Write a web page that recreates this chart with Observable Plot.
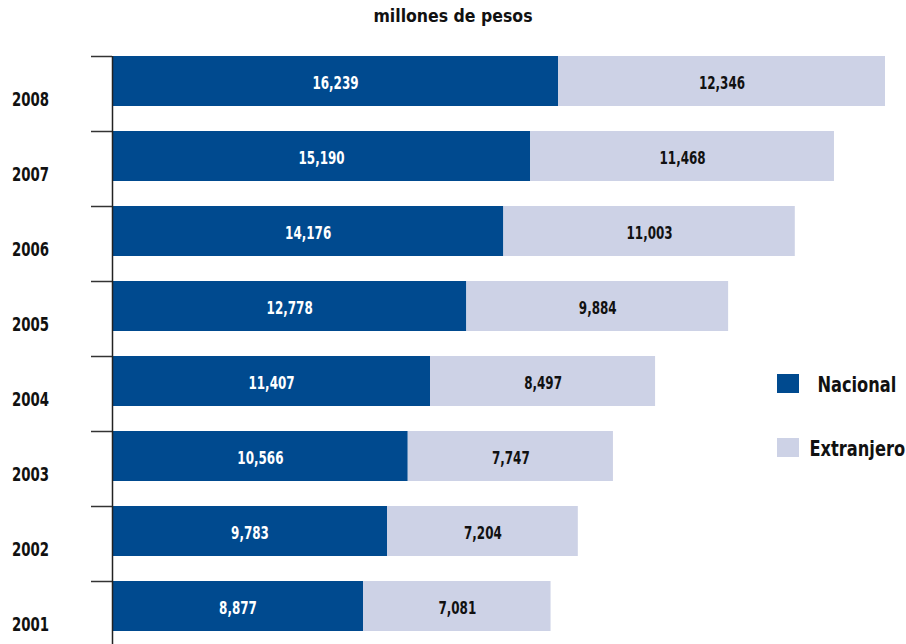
<!DOCTYPE html>
<html>
<head>
<meta charset="utf-8">
<script src="https://cdn.jsdelivr.net/npm/d3@7"></script>
<script src="https://cdn.jsdelivr.net/npm/@observablehq/plot@0.6"></script>
<style>
  html, body { margin: 0; padding: 0; background: #fff; }
  #wrap { position: relative; width: 906px; height: 644px; overflow: hidden;
    font-family: "DejaVu Sans Condensed", "Liberation Sans Narrow", sans-serif; font-weight: bold; font-stretch: condensed; }
  #chart { position: absolute; left: 0; top: 0; }
  .title { position: absolute; left: 0; width: 906px; top: 6px; text-align: center; font-size: 17.5px; color: #111; }
  .sw { position: absolute; left: 777px; width: 22px; height: 19px; }
  .lt { position: absolute; left: 787px; width: 140px; text-align: center; font-size: 20.5px; color: #111; line-height: 22px; }
  .lt span { display: inline-block; transform: scaleX(0.88); transform-origin: center; }
</style>
</head>
<body>
<div id="wrap">
  <div class="title">millones de pesos</div>
  <div id="chart"></div>
  <div class="sw" style="top:374px;background:#004a8f"></div>
  <div class="lt" style="top:374px"><span>Nacional</span></div>
  <div class="sw" style="top:438px;background:#cdd2e6"></div>
  <div class="lt" style="top:438px"><span>Extranjero</span></div>
</div>
<script>
const years = ["2008", "2007", "2006", "2005", "2004", "2003", "2002", "2001"];
const nacional = [16239, 15190, 14176, 12778, 11407, 10566, 9783, 8877];
const extranjero = [12346, 11468, 11003, 9884, 8497, 7747, 7204, 7081];
const seriesNames = ["Nacional", "Extranjero"];
const seriesColors = ["#004a8f", "#cdd2e6"];
const labelColors = ["#ffffff", "#111111"];
// the original chart's bars start from a baseline drawn slightly left of zero
const baseline = -600;

const segs = [];
years.forEach((y, i) => {
  segs.push({year: y, series: "Nacional", value: nacional[i], start: baseline, end: nacional[i]});
  segs.push({year: y, series: "Extranjero", value: extranjero[i], start: nacional[i], end: nacional[i] + extranjero[i]});
});
const maxTotal = d3.max(segs, d => d.end);
const fmt = d3.format(",");
const font = '"DejaVu Sans Condensed", "Liberation Sans Narrow", sans-serif';

const chart = Plot.plot({
  width: 906,
  height: 644,
  marginLeft: 112,
  marginRight: 21,
  marginTop: 56,
  marginBottom: 13,
  style: {fontFamily: font, fontWeight: "bold", background: "transparent"},
  x: {domain: [baseline, maxTotal], axis: null},
  y: {domain: years, paddingInner: 1/3, paddingOuter: 0, align: 0, axis: null, label: null},
  color: {domain: seriesNames, range: seriesColors},
  marks: [
    Plot.barX(segs, {x1: "start", x2: "end", y: "year", fill: "series"}),
    Plot.text(segs, {x: d => (d.start + d.end) / 2, y: "year",
      text: d => fmt(d.value),
      fill: {value: d => labelColors[seriesNames.indexOf(d.series)], scale: null},
      fontSize: 17.5, fontWeight: "bold", dy: 2, className: "vl"}),
    Plot.axisY({tickSize: 21, tickFormat: () => "", label: null, dy: -25, stroke: "#333", strokeWidth: 1.5}),
    Plot.text(years, {y: d => d, text: d => d, frameAnchor: "left", dx: -82, dy: 18.5,
      textAnchor: "middle", fontSize: 19.5, fontWeight: "bold", fill: "#111", className: "yl"}),
    Plot.ruleX([baseline], {insetBottom: -13, stroke: "#222", strokeWidth: 1.5})
  ]
});
// narrow the labels horizontally (condensed face), scaling about each label's anchor
chart.querySelectorAll(".vl text, .yl text").forEach(t => {
  const tr = t.getAttribute("transform") || "";
  t.setAttribute("transform", (tr + " scale(0.76,1)").trim());
});
document.getElementById("chart").appendChild(chart);
</script>
</body>
</html>
